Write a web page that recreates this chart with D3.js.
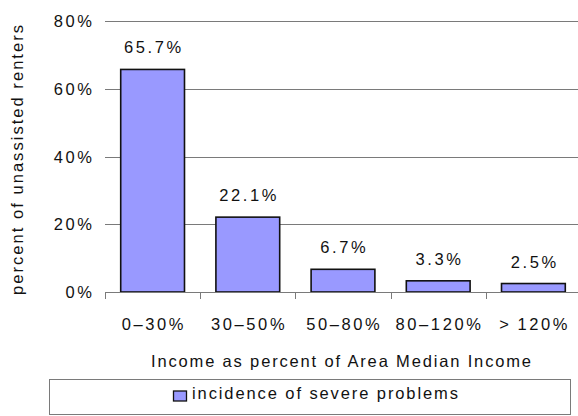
<!DOCTYPE html>
<html><head><meta charset="utf-8">
<script src="https://cdn.jsdelivr.net/npm/d3@7"></script>
<style>
html,body{margin:0;padding:0;background:#fff;}
text{font-family:"Liberation Sans",Arial,sans-serif;fill:#111;}
</style></head>
<body>
<svg id="chart" width="578" height="416"></svg>
<script>
const categories = ["0\u201330%", "30\u201350%", "50\u201380%", "80\u2013120%", ">\u2009120%"];
const values = [65.7, 22.1, 6.7, 3.3, 2.5];
const valueLabels = ["65.7%", "22.1%", "6.7%", "3.3%", "2.5%"];
const yTicks = [0, 20, 40, 60, 80];
const yTickLabels = ["0%", "20%", "40%", "60%", "80%"];
const seriesName = "incidence of severe problems";
const xTitle = "Income as percent of Area Median Income";
const yTitle = "percent of unassisted renters";

const svg = d3.select("#chart");
const plotLeft = 105, plotRight = 581, plotTop = 21, plotBottom = 292;

const x = d3.scaleBand().domain(categories).range([plotLeft, plotRight]).paddingInner(0.33).paddingOuter(0.165);
const y = d3.scaleLinear().domain([0, 80]).range([plotBottom, plotTop]);

const fs = 16.5, ls = 2.6;

// gridlines
svg.append("g").selectAll("line").data(yTicks.filter(d => d > 0)).join("line")
  .attr("x1", plotLeft).attr("x2", 578)
  .attr("y1", d => Math.round(y(d)) + 0.5).attr("y2", d => Math.round(y(d)) + 0.5)
  .attr("stroke", "#7a7a7a").attr("stroke-width", 1);

// bars
svg.append("g").selectAll("rect").data(values).join("rect")
  .attr("x", (d, i) => x(categories[i]))
  .attr("width", x.bandwidth())
  .attr("y", d => y(d))
  .attr("height", d => y(0) - y(d))
  .attr("fill", "#9999ff").attr("stroke", "#111").attr("stroke-width", 1.6);

// x axis line + ticks
svg.append("line").attr("x1", plotLeft).attr("x2", 578).attr("y1", plotBottom + 0.5).attr("y2", plotBottom + 0.5)
  .attr("stroke", "#7a7a7a");
const step = x.step();
const boundaries = categories.map(c => x(c) - x.paddingInner() * step / 2);
svg.append("g").selectAll("line").data(boundaries).join("line")
  .attr("x1", d => Math.round(d) + 0.5).attr("x2", d => Math.round(d) + 0.5)
  .attr("y1", plotBottom).attr("y2", plotBottom + 7)
  .attr("stroke", "#7a7a7a");

// y tick labels
svg.append("g").selectAll("text").data(yTicks).join("text")
  .attr("x", 92 + ls).attr("y", d => y(d) + 6)
  .attr("text-anchor", "end").attr("font-size", fs).attr("letter-spacing", ls)
  .text((d, i) => yTickLabels[i]);

// x tick labels
svg.append("g").selectAll("text").data(categories).join("text")
  .attr("x", d => x(d) + x.bandwidth() / 2 + ls / 2).attr("y", 330)
  .attr("text-anchor", "middle").attr("font-size", fs).attr("letter-spacing", ls)
  .text(d => d);

// value labels
svg.append("g").selectAll("text").data(values).join("text")
  .attr("x", (d, i) => x(categories[i]) + x.bandwidth() / 2 + ls / 2)
  .attr("y", d => y(d) - 16)
  .attr("text-anchor", "middle").attr("font-size", fs).attr("letter-spacing", ls)
  .text((d, i) => valueLabels[i]);

// x title
svg.append("text").attr("x", 151).attr("y", 367)
  .attr("font-size", fs).attr("textLength", 380).attr("lengthAdjust", "spacing")
  .text(xTitle);

// y title
svg.append("text").attr("transform", "translate(23,295) rotate(-90)")
  .attr("font-size", fs).attr("textLength", 270).attr("lengthAdjust", "spacing")
  .text(yTitle);

// legend
svg.append("rect").attr("x", 49.5).attr("y", 379.5).attr("width", 521).attr("height", 35)
  .attr("fill", "#fff").attr("stroke", "#7a7a7a").attr("stroke-width", 1);
svg.append("rect").attr("x", 173.5).attr("y", 391).attr("width", 13).attr("height", 10)
  .attr("fill", "#9999ff").attr("stroke", "#111").attr("stroke-width", 1.3);
svg.append("text").attr("x", 192).attr("y", 398.5)
  .attr("font-size", fs).attr("textLength", 266).attr("lengthAdjust", "spacing")
  .text(seriesName);
</script>
</body></html>
